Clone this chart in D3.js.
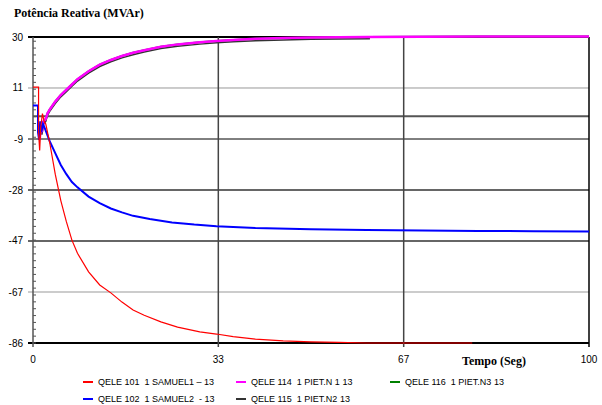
<!DOCTYPE html>
<html>
<head>
<meta charset="utf-8">
<script src="https://cdn.jsdelivr.net/npm/d3@7"></script>
<style>
  body { margin: 0; background: #fff; }
  svg { display: block; }
  .leg { white-space: pre; }
</style>
</head>
<body>
<script>
// values: [tempo (s), potencia (MVAr)]
const q101 = [[0, 11], [1.0, 11], [1.0, -6], [1.2, -13], [1.4, -4], [1.7, 1], [2.0, -2], [2.3, -3],
  [3, -10], [4, -22], [5, -32], [6, -40], [7, -47], [8, -52], [10, -59], [12, -64], [14, -67],
  [16, -70.5], [18, -73.5], [20, -75.5], [23, -78], [26, -80], [30, -81.8], [33, -82.6],
  [36, -83.6], [40, -84.5], [45, -85.2], [50, -85.6], [55, -85.8], [60, -86], [70, -86], [79, -86]];
const q102 = [[0, 4], [0.9, 4], [0.9, -6], [1.1, -9], [1.3, -2], [1.5, -6], [1.8, -3], [2.2, -5],
  [3, -9.5], [4, -14], [5, -18.5], [6, -22], [7, -25], [8, -27], [10, -30.5], [12, -33], [14, -35],
  [16, -36.5], [18, -37.8], [21, -39], [25, -40.3], [29, -41.1], [33, -41.7], [40, -42.4],
  [50, -42.9], [60, -43.2], [70, -43.4], [80, -43.5], [90, -43.6], [100, -43.7]];
const q114 = [[1.0, -5], [1.2, -9], [1.4, -4], [1.6, -6], [1.9, -2], [2.3, -1], [2.6, 1], [3, 2.5],
  [4, 5.5], [5, 8], [6, 10], [7, 12], [8, 14], [10, 17], [12, 19.5], [14, 21.3], [16, 22.8],
  [18, 24], [20, 25], [23, 26.3], [26, 27.2], [30, 28], [33, 28.5], [36, 28.9], [40, 29.3],
  [45, 29.6], [50, 29.8], [60, 30], [70, 30.1], [80, 30.2], [100, 30.2]];
const q115 = [[1.0, -6], [1.2, -9], [1.4, -5], [1.6, -7], [1.9, -3], [2.3, -2], [2.6, 0.3], [3, 1.8],
  [4, 4.8], [5, 7.3], [6, 9.3], [7, 11.3], [8, 13.3], [10, 16.3], [12, 18.8], [14, 20.6],
  [16, 22.1], [18, 23.3], [20, 24.3], [23, 25.6], [26, 26.5], [30, 27.3], [33, 27.8], [36, 28.2],
  [40, 28.6], [45, 28.9], [50, 29.1], [55, 29.2], [60.6, 29.3]];
const q116 = [[1.0, -5], [1.2, -9], [1.4, -4], [1.6, -6], [1.9, -2], [2.3, -1], [2.6, 1], [3, 2.5],
  [4, 5.5], [5, 8], [6, 10], [7, 12], [8, 14], [10, 17], [12, 19.5], [14, 21.3], [16, 22.8],
  [18, 24], [20, 25], [23, 26.3], [26, 27.2], [30, 28], [33, 28.5], [36, 28.9], [40, 29.3],
  [45, 29.6], [50, 29.8], [60, 30], [70, 30.1], [80, 30.2], [100, 30.2]];

const yTicks = [30, 10.67, -8.67, -28, -47.33, -66.67, -86];
const yLabels = ["30", "11", "-9", "-28", "-47", "-67", "-86"];
const xTicks = [0, 33.33, 66.67, 100];
const xLabels = ["0", "33", "67", "100"];

const series = [
  { name: "QELE 101  1 SAMUEL1 \u2013 13", data: q101, color: "#ff0000", w: 1.2 },
  { name: "QELE 102  1 SAMUEL2  - 13", data: q102, color: "#0000ff", w: 2 },
  { name: "QELE 114  1 PIET.N 1 13", data: q114, color: "#ff00ff", w: 2.5 },
  { name: "QELE 115  1 PIET.N2 13", data: q115, color: "#333333", w: 1.5 },
  { name: "QELE 116  1 PIET.N3 13", data: q116, color: "#008000", w: 2 }
];

const W = 602, H = 405;
const x = d3.scaleLinear().domain([0, 100]).range([33, 589]);
const y = d3.scaleLinear().domain([-86, 30]).range([343, 37]);

const svg = d3.select("body").append("svg")
  .attr("width", W).attr("height", H);

svg.append("rect").attr("width", W).attr("height", H).attr("fill", "#fff");

// title
svg.append("text")
  .attr("x", 14).attr("y", 17)
  .attr("font-family", "Liberation Serif, serif")
  .attr("font-weight", "bold").attr("font-size", 12)
  .text("Potência Reativa (MVAr)");

// horizontal grid
const gridStyle = [
  { c: "#000", w: 2 }, { c: "#999", w: 1 }, { c: "#000", w: 1 },
  { c: "#666", w: 2 }, { c: "#666", w: 2 }, { c: "#999", w: 1 }, { c: "#000", w: 2 }
];
svg.append("g").selectAll("line").data(yTicks).join("line")
  .attr("x1", 28).attr("x2", 589)
  .attr("y1", d => y(d)).attr("y2", d => y(d))
  .attr("stroke", (d, i) => gridStyle[i].c)
  .attr("stroke-width", (d, i) => gridStyle[i].w);

// zero line
svg.append("line")
  .attr("x1", 33).attr("x2", 589)
  .attr("y1", y(0)).attr("y2", y(0))
  .attr("stroke", "#555").attr("stroke-width", 2);

// vertical grid
svg.append("g").selectAll("line").data(xTicks.slice(1, 3)).join("line")
  .attr("x1", d => x(d)).attr("x2", d => x(d))
  .attr("y1", 37).attr("y2", 347)
  .attr("stroke", "#444").attr("stroke-width", 1.5);

// right border
svg.append("line")
  .attr("x1", 589).attr("x2", 589).attr("y1", 37).attr("y2", 347)
  .attr("stroke", "#000").attr("stroke-width", 1.5);

// left axis with minor ticks
svg.append("line")
  .attr("x1", 33).attr("x2", 33).attr("y1", 37).attr("y2", 347)
  .attr("stroke", "#555").attr("stroke-width", 1.5);
svg.append("g").selectAll("line").data(d3.range(-86, 30, 2.6)).join("line")
  .attr("x1", 33).attr("x2", 36)
  .attr("y1", d => y(d)).attr("y2", d => y(d))
  .attr("stroke", "#555").attr("stroke-width", 1);

// y labels
svg.append("g").selectAll("text").data(yTicks).join("text")
  .attr("x", 23).attr("y", d => y(d) + 3.5)
  .attr("text-anchor", "end")
  .attr("font-family", "Liberation Sans, Arial, sans-serif").attr("font-size", 10)
  .text((d, i) => yLabels[i]);

// x labels
svg.append("g").selectAll("text").data(xTicks).join("text")
  .attr("x", d => x(d)).attr("y", 363)
  .attr("text-anchor", "middle")
  .attr("font-family", "Liberation Sans, Arial, sans-serif").attr("font-size", 10)
  .text((d, i) => xLabels[i]);

svg.append("text")
  .attr("x", 462).attr("y", 365)
  .attr("font-family", "Liberation Serif, serif")
  .attr("font-weight", "bold").attr("font-size", 12)
  .text("Tempo (Seg)");

// curves
const line = d3.line().x(d => x(d[0])).y(d => y(d[1]));
const drawOrder = [4, 3, 2, 1, 0];
svg.append("g").selectAll("path").data(drawOrder.map(i => series[i])).join("path")
  .attr("d", d => line(d.data))
  .attr("fill", "none")
  .attr("stroke", d => d.color)
  .attr("stroke-width", d => d.w);

// legend
const legendPos = [[83, 382], [83, 399], [236, 382], [236, 399], [390, 382]];
const lg = svg.append("g").selectAll("g").data(series).join("g")
  .attr("transform", (d, i) => `translate(${legendPos[i][0]},${legendPos[i][1]})`);
lg.append("line")
  .attr("x1", 0).attr("x2", 10).attr("y1", 0).attr("y2", 0)
  .attr("stroke", d => d.color).attr("stroke-width", 2);
lg.append("text")
  .attr("class", "leg")
  .attr("x", 15).attr("y", 3)
  .attr("font-family", "Liberation Sans, Arial, sans-serif").attr("font-size", 9)
  .text(d => d.name);
</script>
</body>
</html>
